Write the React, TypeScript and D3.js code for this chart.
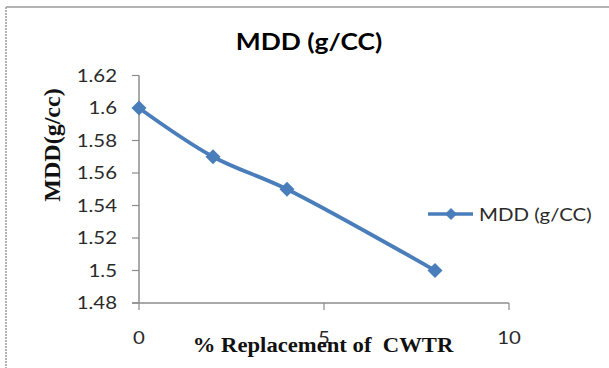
import React from "react";
import * as d3 from "d3";

const xValues = [0, 2, 4, 8];
const mddValues = [1.6, 1.57, 1.55, 1.5];
const yTicks = [1.48, 1.5, 1.52, 1.54, 1.56, 1.58, 1.6, 1.62];
const xTicks = [0, 5, 10];
const seriesName = "MDD (g/CC)";
const chartTitle = "MDD (g/CC)";
const xTitle = "% Replacement of\u00a0 CWTR";
const yTitle = "MDD(g/cc)";

const W = 609;
const H = 368;
const blue = "#4A7EBB";
const axisColor = "#8C8C8C";
const sans = "Lato, 'Open Sans', 'Liberation Sans', sans-serif";
const serif = "'Liberation Serif', 'DejaVu Serif', serif";
const SX = 1.2;

function SText(props: {
  x: number;
  y: number;
  anchor?: "start" | "middle" | "end";
  size: number;
  bold?: boolean;
  family?: string;
  fill?: string;
  sx?: number;
  children: React.ReactNode;
}) {
  const { x, y, anchor = "start", size, bold, family = sans, fill = "#2a2a2a", sx = SX, children } = props;
  return (
    <text
      transform={`translate(${x},${y}) scale(${sx},1)`}
      textAnchor={anchor}
      fontFamily={family}
      fontWeight={bold ? "bold" : "normal"}
      fontSize={size}
      fill={fill}
    >
      {children}
    </text>
  );
}

export default function App() {
  const x = d3.scaleLinear().domain([0, 10]).range([139, 509]);
  const y = d3.scaleLinear().domain([1.48, 1.62]).range([303, 75.5]);
  const pts: [number, number][] = xValues.map((v, i) => [x(v), y(mddValues[i])]);
  const line = d3.line().curve(d3.curveCatmullRom.alpha(0.5))(pts) || "";
  const diamond = (cx: number, cy: number, r: number) =>
    `M${cx},${cy - r}L${cx + r},${cy}L${cx},${cy + r}L${cx - r},${cy}Z`;

  return (
    <svg
      width={W}
      height={H}
      style={{ position: "absolute", left: 0, top: 0, background: "#fff" }}
    >
      <rect x={0} y={0} width={W} height={H} fill="#fff" />
      {/* outer border */}
      <line x1={6} y1={7} x2={W} y2={7} stroke="#9a9a9a" strokeWidth={1.5} />
      <line x1={6} y1={7} x2={6} y2={H} stroke="#9a9a9a" strokeWidth={1.5} strokeDasharray="2,1" />

      {/* title */}
      <SText x={309} y={50} anchor="middle" size={22} bold fill="#000">
        {chartTitle}
      </SText>

      {/* y axis */}
      <line x1={x(0)} y1={y(1.62)} x2={x(0)} y2={y(1.48)} stroke={axisColor} strokeWidth={1.5} />
      {yTicks.map((t) => (
        <g key={t}>
          <line x1={x(0) - 7} x2={x(0)} y1={y(t)} y2={y(t)} stroke={axisColor} strokeWidth={1.2} />
          <SText x={117} y={y(t) + 6} anchor="end" size={17}>
            {String(t)}
          </SText>
        </g>
      ))}

      {/* x axis */}
      <line x1={x(0) - 7} y1={y(1.48)} x2={x(10)} y2={y(1.48)} stroke={axisColor} strokeWidth={1.5} />
      {xTicks.map((t) => (
        <g key={t}>
          <line x1={x(t)} x2={x(t)} y1={y(1.48)} y2={y(1.48) + 7} stroke={axisColor} strokeWidth={1.2} />
          <SText x={x(t)} y={344} anchor="middle" size={17}>
            {String(t)}
          </SText>
        </g>
      ))}

      {/* axis titles */}
      <SText x={323} y={352} anchor="middle" size={22} bold family={serif} fill="#111" sx={1.03}>
        {xTitle}
      </SText>
      <text
        transform={`translate(60,145) rotate(-90)`}
        textAnchor="middle"
        fontFamily={serif}
        fontWeight="bold"
        fontSize={24}
        fill="#111"
      >
        {yTitle}
      </text>

      {/* series */}
      <path d={line} fill="none" stroke={blue} strokeWidth={3.8} strokeLinejoin="round" />
      {pts.map(([cx, cy], i) => (
        <path key={i} d={diamond(cx, cy, 7.5)} fill={blue} />
      ))}

      {/* legend */}
      <line x1={428} x2={473} y1={214} y2={214} stroke={blue} strokeWidth={3.5} />
      <path d={diamond(451, 214, 6)} fill={blue} />
      <SText x={479} y={221} size={17}>
        {seriesName}
      </SText>
    </svg>
  );
}
